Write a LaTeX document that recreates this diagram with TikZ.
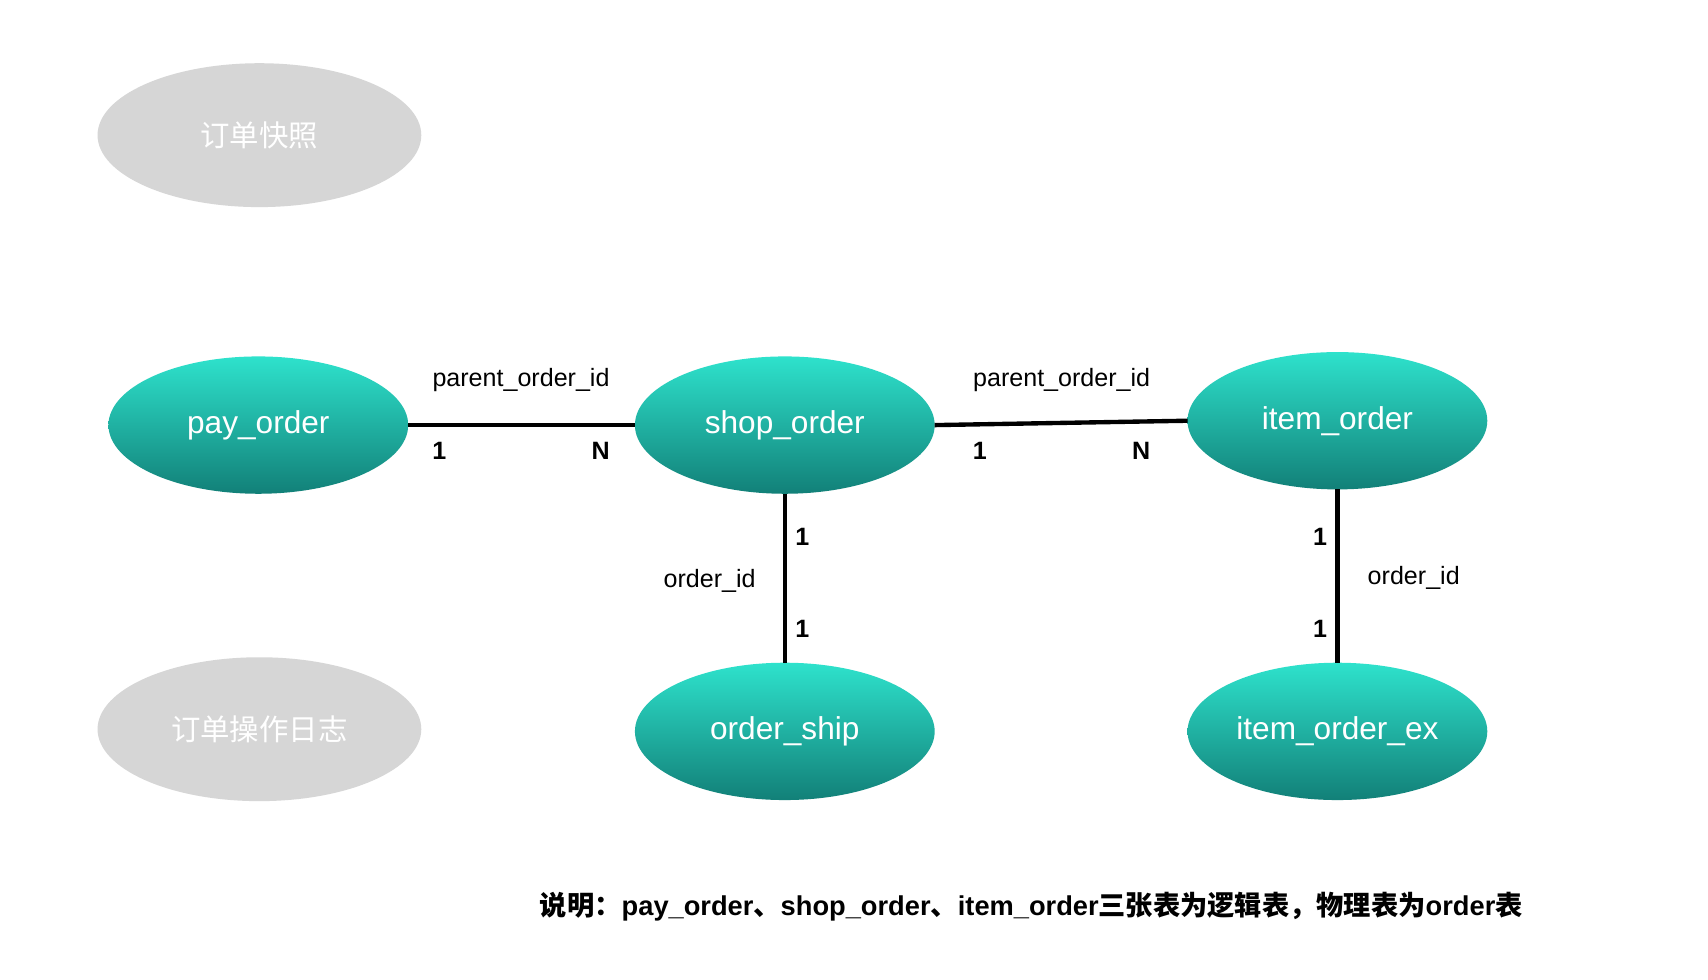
\documentclass[tikz,border=0pt]{standalone}
\usepackage{fontspec}
\setmainfont{Liberation Sans}
\newfontfamily\cjk{Noto Sans CJK SC}
\usetikzlibrary{shapes.geometric}
\definecolor{tealtop}{RGB}{46,226,204}
\definecolor{tealbot}{RGB}{18,128,120}
\definecolor{graybg}{RGB}{214,214,214}
\begin{document}
\begin{tikzpicture}[x=0.5pt,y=-0.5pt,
  entity/.style={ellipse, minimum width=137.5pt, minimum height=63pt, inner sep=0pt, outer sep=0pt,
    top color=tealtop, bottom color=tealbot, draw=none, text=white, font=\fontsize{14.5}{17}\selectfont},
  ghost/.style={ellipse, minimum width=148.5pt, minimum height=66pt, inner sep=0pt, outer sep=0pt,
    fill=graybg, draw=none, text=white, font=\cjk\fontsize{13.5}{16}\selectfont},
  rel/.style={line width=2pt, black},
  lbl/.style={font=\fontsize{11.5}{14}\selectfont, inner sep=0pt},
  card/.style={font=\bfseries\fontsize{11.5}{14}\selectfont, inner sep=0pt},
  note/.style={font=\bfseries\fontsize{12.5}{15}\selectfont, inner sep=0pt, anchor=west}]
\useasboundingbox (0,0) rectangle (1567,899);
\fill[white] (0,0) rectangle (1567,899);

\node[ghost] (snap) at (238,124) {订单快照};
\node[ghost] (log) at (238,669) {订单操作日志};

\node[entity] (pay) at (237,390) {pay\_order};
\node[entity] (shop) at (720,390) {shop\_order};
\node[entity] (item) at (1227,386) {item\_order};
\node[entity] (ship) at (720,671) {order\_ship};
\node[entity] (itemex) at (1227,671) {item\_order\_ex};

\draw[rel] (pay.east) -- (shop.west);
\draw[rel] (shop.east) -- (item.west);
\draw[rel] (shop.south) -- (ship.north);
\draw[rel] (item.south) -- (itemex.north);

\node[lbl] (l1) at (478,349) {parent\_order\_id};
\node[card] (c1a) at (403,414) {1};
\node[card] (c1b) at (551,414) {N};
\node[lbl] (l2) at (974,349) {parent\_order\_id};
\node[card] (c2a) at (899,414) {1};
\node[card] (c2b) at (1047,414) {N};
\node[card] (c3a) at (736,493) {1};
\node[lbl] (l3) at (651,533) {order\_id};
\node[card] (c3b) at (736,577) {1};
\node[card] (c4a) at (1211,493) {1};
\node[lbl] (l4) at (1297,530) {order\_id};
\node[card] (c4b) at (1211,577) {1};

\node[note] (nt) at (495,832) {{\cjk 说明：}pay\_order{\cjk 、}shop\_order{\cjk 、}item\_order{\cjk 三张表为逻辑表，物理表为}order{\cjk 表}};
\end{tikzpicture}
\end{document}
